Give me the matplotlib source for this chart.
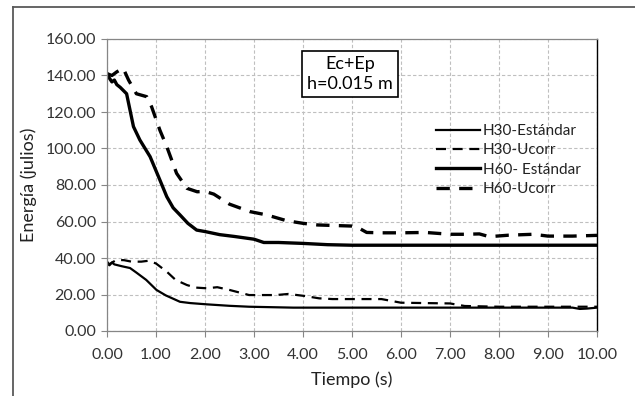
import matplotlib
matplotlib.use('Agg')
import matplotlib.pyplot as plt
from matplotlib.lines import Line2D
from matplotlib.ticker import FormatStrFormatter

plt.rcParams['font.family'] = ['Lato', 'DejaVu Sans']

# H60 - Estandar (thick solid)
t_h60_std = [0, 0.05, 0.1, 0.15, 0.2, 0.27, 0.4, 0.47, 0.54, 0.67, 0.88, 1.08, 1.22,
             1.35, 1.49, 1.65, 1.83, 2.0, 2.3, 2.6, 3.0, 3.2, 3.5, 4.0, 4.5, 5.0,
             6.0, 7.0, 8.0, 9.0, 10.0]
v_h60_std = [141, 138.5, 136.5, 137.5, 135, 133.5, 130, 121, 112, 104.7, 95.5, 82.7, 73.6,
             67.5, 63.6, 59, 55.3, 54.5, 52.8, 51.8, 50.3, 48.5, 48.5, 48, 47.3, 47,
             47, 47, 47, 47, 47]

# H60 - Ucorr (thick dashed)
t_h60_uc = [0, 0.1, 0.2, 0.33, 0.44, 0.6, 0.81, 0.91, 1.08, 1.22, 1.42, 1.63, 1.84,
            2.0, 2.18, 2.5, 2.92, 3.26, 3.67, 4.0, 4.3, 5.0, 5.1, 5.3, 5.6, 6.0,
            6.5, 7.0, 7.3, 7.6, 7.8, 8.2, 8.7, 9.0, 9.5, 10.0]
v_h60_uc = [141, 140, 142, 144, 137.5, 130, 128.4, 122.9, 110, 101, 86.4, 78.2, 76.3,
            76.5, 75, 69.5, 65.4, 63.6, 60.4, 59, 58.1, 57.5, 57, 54, 53.8, 53.8,
            54, 53, 53, 53.2, 51.7, 52.5, 53, 52, 52, 52.4]

# H30 - Estandar (thin solid)
t_h30_std = [0, 0.05, 0.1, 0.15, 0.3, 0.47, 0.6, 0.8, 1.01, 1.2, 1.49, 1.7, 2.04,
             2.5, 2.9, 3.8, 5.0, 7.0, 9.5, 9.65, 9.8, 10.0]
v_h30_std = [38, 36.5, 37.5, 36.5, 35.5, 34.5, 32, 28, 22.5, 19.5, 16, 15.3, 14.6,
             13.8, 13.3, 12.8, 12.8, 12.8, 12.8, 12.1, 12.3, 12.8]

# H30 - Ucorr (thin dashed)
t_h30_uc = [0, 0.05, 0.1, 0.2, 0.35, 0.5, 0.7, 0.85, 1.0, 1.22, 1.4, 1.63, 1.8,
            2.04, 2.25, 2.5, 2.9, 3.45, 3.7, 4.03, 4.33, 4.6, 5.6, 6.0, 7.0, 7.3,
            8.0, 10.0]
v_h30_uc = [37, 36, 37.5, 39, 38.8, 38, 38, 38.5, 37, 32.5, 28, 25.2, 23.8,
            23.4, 24, 22.5, 19.7, 19.7, 20.3, 19.2, 17.9, 17.5, 17.5, 15.5, 15.1, 13.7,
            13.3, 13.3]

x_ticks = [0, 1, 2, 3, 4, 5, 6, 7, 8, 9, 10]
y_ticks = [0, 20, 40, 60, 80, 100, 120, 140, 160]
labels = ['H30-Estándar', 'H30-Ucorr', 'H60- Estándar', 'H60-Ucorr']

fig = plt.figure(figsize=(6.35, 3.96), dpi=100)
ax = fig.add_axes([107 / 635, 1 - 331 / 396, 490 / 635, 292 / 396])

# outer chart border
fig.add_artist(Line2D([13 / 635, 13 / 635], [0, 1 - 7 / 396], transform=fig.transFigure,
                      color='#595959', lw=1.3))
fig.add_artist(Line2D([13 / 635, 1], [1 - 7 / 396, 1 - 7 / 396], transform=fig.transFigure,
                      color='#595959', lw=1.3))

ax.plot(t_h30_std, v_h30_std, color='black', lw=1.6, label=labels[0])
ax.plot(t_h30_uc, v_h30_uc, color='black', lw=1.6, dashes=(4.5, 3), label=labels[1])
ax.plot(t_h60_std, v_h60_std, color='black', lw=2.4, label=labels[2])
ax.plot(t_h60_uc, v_h60_uc, color='black', lw=2.4, dashes=(4, 2.8), label=labels[3])

ax.set_xlim(0, 10)
ax.set_ylim(0, 160)
ax.set_xticks(x_ticks)
ax.set_yticks(y_ticks)
ax.xaxis.set_major_formatter(FormatStrFormatter('%.2f'))
ax.yaxis.set_major_formatter(FormatStrFormatter('%.2f'))
ax.tick_params(labelsize=11.5, colors='#333333', length=4, width=0.8)
ax.tick_params(axis='x', pad=8, color='#868686')
ax.tick_params(axis='y', pad=4, color='#868686')
ax.grid(True, color='#bfbfbf', linestyle=(0, (3, 2)), lw=0.8)
ax.set_axisbelow(True)

for side in ['left', 'bottom', 'top']:
    ax.spines[side].set_color('#868686')
    ax.spines[side].set_linewidth(0.9)
ax.spines['right'].set_color('black')
ax.spines['right'].set_linewidth(1.0)

ax.set_xlabel('Tiempo (s)', fontsize=13, color='#222222', labelpad=7)
ax.set_ylabel('Energía (julios)', fontsize=13, color='#222222', labelpad=6)

ax.text(4.96, 140.8, 'Ec+Ep\nh=0.015 m', ha='center', va='center', fontsize=13,
        linespacing=1.25,
        bbox=dict(boxstyle='square,pad=0.3', facecolor='white', edgecolor='black', lw=1.2))

leg = ax.legend(loc='upper left', bbox_to_anchor=((430 - 107) / 490, (331 - 118) / 292),
                frameon=False, fontsize=11, handlelength=2.9, handletextpad=0.15,
                labelspacing=0.35, borderaxespad=0)
for txt in leg.get_texts():
    txt.set_color('#222222')

fig.savefig('out.png', dpi=100)
